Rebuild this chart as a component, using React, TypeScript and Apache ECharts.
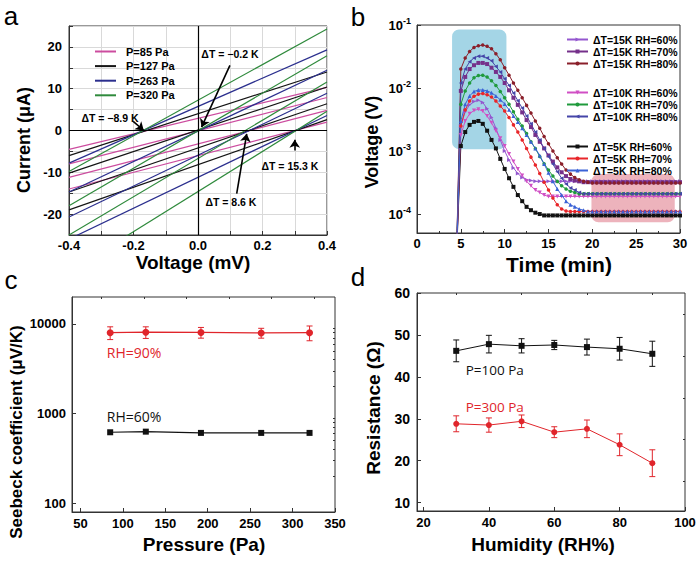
import React, { useEffect, useRef } from 'react';
import * as echarts from 'echarts';

const FONT = '"Liberation Sans", Arial, Helvetica, sans-serif';
const NARROW_FONT = '"Liberation Sans Narrow", "Liberation Sans", Arial, sans-serif';
const NOTE_FONT = '"Open Sans", "Noto Sans", sans-serif';

/* ---------------- panel a : I-V curves ---------------- */
const ivVoltage = [-0.4, 0.4];
const ivPressures = ['P=85 Pa', 'P=127 Pa', 'P=263 Pa', 'P=320 Pa'];
// current (µA) at V=-0.4 and V=+0.4 for the four temperature differences
const ivCurrent85 = [[-4.5, 10.3], [-8.0, 7.9], [-11.2, 4.8], [-14.0, 2.0]];
const ivCurrent127 = [[-6.0, 14.0], [-10.2, 10.4], [-14.7, 6.4], [-19.0, 2.6]];
const ivCurrent263 = [[-7.8, 19.3], [-14.7, 14.4], [-20.7, 8.9], [-26.0, 3.6]];
const ivCurrent320 = [[-9.8, 24.3], [-18.0, 17.9], [-25.0, 11.6], [-33.8, 4.6]];
const ivNoteText = ['ΔT = −8.9 K', 'ΔT = −0.2 K', 'ΔT = 8.6 K', 'ΔT = 15.3 K'];
const ivNoteAt = [[-0.273, 3.1], [0.099, 18.3], [0.102, -17.1], [0.285, -8.4]];
const ivArrowFrom = [[-0.201, 2.2], [0.099, 15.6], [0.12, -15.1], [0.30, -4.8]];
const ivArrowTo = [[-0.168, 0.0], [0.011, 0.8], [0.151, -0.8], [0.30, -2.2]];

/* ---------------- panel b : voltage vs time ---------------- */
const timeMin = [4.5, 5, 5.5, 6, 6.5, 7, 7.5, 8, 8.5, 9, 9.5, 10, 10.5, 11, 11.5, 12, 12.5, 13,
  13.5, 14, 14.5, 15, 15.5, 16, 16.5, 17, 17.5, 18, 18.5, 19, 19.5, 20, 20.5, 21, 21.5, 22, 22.5,
  23, 23.5, 24, 24.5, 25, 25.5, 26, 26.5, 27, 27.5, 28, 28.5, 29, 29.5, 30];
const v15K60 = [2e-5, 0.0025, 0.0042, 0.0054, 0.0061, 0.0064, 0.0059, 0.0047, 0.0034, 0.0023,
  0.0015, 0.0010, 7.2e-4, 5.4e-4, 4.4e-4, 3.8e-4, 3.5e-4, 3.4e-4, 3.3e-4, 3.3e-4,
  3.3e-4, 3.3e-4, 3.3e-4, 3.3e-4, 3.3e-4, 3.3e-4, 3.3e-4, 3.3e-4, 3.3e-4, 3.3e-4,
  3.3e-4, 3.3e-4, 3.3e-4, 3.3e-4, 3.3e-4, 3.3e-4, 3.3e-4, 3.3e-4, 3.3e-4, 3.3e-4,
  3.3e-4, 3.3e-4, 3.3e-4, 3.3e-4, 3.3e-4, 3.3e-4, 3.3e-4, 3.3e-4, 3.3e-4, 3.3e-4, 3.3e-4, 3.3e-4];
const v15K70 = [2e-5, 0.009, 0.015, 0.020, 0.023, 0.025, 0.025, 0.024, 0.021, 0.018,
  0.015, 0.012, 0.0092, 0.0070, 0.0054, 0.0041, 0.0031, 0.0024, 0.0018, 0.0014,
  0.0011, 8.5e-4, 6.8e-4, 5.5e-4, 4.6e-4, 4.0e-4, 3.6e-4, 3.4e-4, 3.3e-4, 3.2e-4,
  3.2e-4, 3.2e-4, 3.2e-4, 3.2e-4, 3.2e-4, 3.2e-4, 3.2e-4, 3.2e-4, 3.2e-4, 3.2e-4,
  3.2e-4, 3.2e-4, 3.2e-4, 3.2e-4, 3.2e-4, 3.2e-4, 3.2e-4, 3.2e-4, 3.2e-4, 3.2e-4, 3.2e-4, 3.2e-4];
const v15K80 = [2e-5, 0.020, 0.030, 0.038, 0.044, 0.047, 0.048, 0.046, 0.042, 0.035,
  0.028, 0.021, 0.016, 0.012, 0.0092, 0.0070, 0.0053, 0.0040, 0.0030, 0.0023,
  0.0017, 0.0013, 0.0010, 7.8e-4, 6.2e-4, 5.0e-4, 4.3e-4, 3.8e-4, 3.5e-4, 3.3e-4,
  3.2e-4, 3.1e-4, 3.1e-4, 3.1e-4, 3.1e-4, 3.1e-4, 3.1e-4, 3.1e-4, 3.1e-4, 3.1e-4,
  3.1e-4, 3.1e-4, 3.1e-4, 3.1e-4, 3.1e-4, 3.1e-4, 3.1e-4, 3.1e-4, 3.1e-4, 3.1e-4, 3.1e-4, 3.1e-4];
const v10K60 = [2e-5, 0.0018, 0.0030, 0.0039, 0.0044, 0.0046, 0.0043, 0.0036, 0.0028, 0.0021,
  0.0016, 0.0012, 9.0e-4, 6.8e-4, 5.2e-4, 4.1e-4, 3.3e-4, 2.8e-4, 2.4e-4, 2.2e-4,
  2.0e-4, 1.9e-4, 1.9e-4, 1.9e-4, 1.9e-4, 1.9e-4, 1.9e-4, 1.9e-4, 1.9e-4, 1.9e-4,
  1.9e-4, 1.9e-4, 1.9e-4, 1.9e-4, 1.9e-4, 1.9e-4, 1.9e-4, 1.9e-4, 1.9e-4, 1.9e-4,
  1.9e-4, 1.9e-4, 1.9e-4, 1.9e-4, 1.9e-4, 1.9e-4, 1.9e-4, 1.9e-4, 1.9e-4, 1.9e-4, 1.9e-4, 1.9e-4];
const v10K70 = [2e-5, 0.0055, 0.0090, 0.012, 0.0145, 0.0158, 0.016, 0.015, 0.013, 0.011,
  0.0088, 0.0070, 0.0055, 0.0042, 0.0032, 0.0025, 0.0019, 0.0014, 0.0011, 8.2e-4,
  6.3e-4, 5.0e-4, 4.0e-4, 3.3e-4, 2.8e-4, 2.5e-4, 2.3e-4, 2.2e-4, 2.1e-4, 2.1e-4,
  2.1e-4, 2.1e-4, 2.1e-4, 2.1e-4, 2.1e-4, 2.1e-4, 2.1e-4, 2.1e-4, 2.1e-4, 2.1e-4,
  2.1e-4, 2.1e-4, 2.1e-4, 2.1e-4, 2.1e-4, 2.1e-4, 2.1e-4, 2.1e-4, 2.1e-4, 2.1e-4, 2.1e-4, 2.1e-4];
const v10K80 = [2e-5, 0.012, 0.020, 0.026, 0.030, 0.032, 0.032, 0.030, 0.027, 0.022,
  0.018, 0.014, 0.011, 0.0083, 0.0063, 0.0048, 0.0036, 0.0027, 0.0020, 0.0015,
  0.0011, 8.2e-4, 6.2e-4, 4.7e-4, 3.7e-4, 3.0e-4, 2.6e-4, 2.4e-4, 2.2e-4, 2.1e-4,
  2.1e-4, 2.1e-4, 2.1e-4, 2.1e-4, 2.1e-4, 2.1e-4, 2.1e-4, 2.1e-4, 2.1e-4, 2.1e-4,
  2.1e-4, 2.1e-4, 2.1e-4, 2.1e-4, 2.1e-4, 2.1e-4, 2.1e-4, 2.1e-4, 2.1e-4, 2.1e-4, 2.1e-4, 2.1e-4];
const v5K60 = [2e-5, 0.0012, 0.0020, 0.0026, 0.0029, 0.0030, 0.0027, 0.0021, 0.0015, 0.0011,
  7.5e-4, 5.2e-4, 3.7e-4, 2.7e-4, 2.0e-4, 1.6e-4, 1.3e-4, 1.15e-4, 1.05e-4, 1.0e-4,
  9.5e-5, 9.5e-5, 9.5e-5, 9.5e-5, 9.5e-5, 9.5e-5, 9.5e-5, 9.5e-5, 9.5e-5, 9.5e-5,
  9.5e-5, 9.5e-5, 9.5e-5, 9.5e-5, 9.5e-5, 9.5e-5, 9.5e-5, 9.5e-5, 9.5e-5, 9.5e-5,
  9.5e-5, 9.5e-5, 9.5e-5, 9.5e-5, 9.5e-5, 9.5e-5, 9.5e-5, 9.5e-5, 9.5e-5, 9.5e-5, 9.5e-5, 9.5e-5];
const v5K70 = [2e-5, 0.0025, 0.0045, 0.0062, 0.0074, 0.0080, 0.0082, 0.0078, 0.0072, 0.0062,
  0.0052, 0.0043, 0.0034, 0.0026, 0.0020, 0.0015, 0.0011, 8.0e-4, 6.0e-4, 4.4e-4,
  3.2e-4, 2.4e-4, 1.8e-4, 1.4e-4, 1.2e-4, 1.12e-4, 1.1e-4, 1.1e-4, 1.1e-4, 1.1e-4,
  1.1e-4, 1.1e-4, 1.1e-4, 1.1e-4, 1.1e-4, 1.1e-4, 1.1e-4, 1.1e-4, 1.1e-4, 1.1e-4,
  1.1e-4, 1.1e-4, 1.1e-4, 1.1e-4, 1.1e-4, 1.1e-4, 1.1e-4, 1.1e-4, 1.1e-4, 1.1e-4, 1.1e-4, 1.1e-4];
const v5K80 = [2e-5, 0.0030, 0.0055, 0.0075, 0.0088, 0.0093, 0.0093, 0.0090, 0.0084, 0.0075,
  0.0065, 0.0056, 0.0045, 0.0036, 0.0029, 0.0023, 0.0018, 0.0014, 0.0011, 8.5e-4,
  6.2e-4, 4.5e-4, 3.3e-4, 2.5e-4, 2.0e-4, 1.6e-4, 1.4e-4, 1.3e-4, 1.2e-4, 1.15e-4,
  1.1e-4, 1.1e-4, 1.1e-4, 1.1e-4, 1.1e-4, 1.1e-4, 1.1e-4, 1.1e-4, 1.1e-4, 1.1e-4,
  1.1e-4, 1.1e-4, 1.1e-4, 1.1e-4, 1.1e-4, 1.1e-4, 1.1e-4, 1.1e-4, 1.1e-4, 1.1e-4, 1.1e-4, 1.1e-4];
const bNames15 = ['ΔT=15K RH=60%', 'ΔT=15K RH=70%', 'ΔT=15K RH=80%'];
const bNames10 = ['ΔT=10K RH=60%', 'ΔT=10K RH=70%', 'ΔT=10K RH=80%'];
const bNames5 = ['ΔT=5K RH=60%', 'ΔT=5K RH=70%', 'ΔT=5K RH=80%'];
const bTickValues = [1e-4, 1e-3, 1e-2, 1e-1];
const bShadeBlueT = [4.0, 10.2];
const bShadeBlueV = [1.07e-3, 0.085];
const bShadePinkT = [19.9, 29.4];
const bShadePinkV = [7.4e-5, 4.3e-4];

/* ---------------- panel c : Seebeck vs pressure ---------------- */
const pressurePa = [85, 127, 192, 263, 320];
const seebeckRH90 = [8000, 8100, 8050, 7950, 8000];
const seebeckRH90Err = [1300, 1200, 1100, 1000, 1500];
const seebeckRH60 = [620, 630, 610, 610, 610];
const cTickValues = [100, 1000, 10000];
const cLabelRH90At = [81, 4790];
const cLabelRH60At = [81, 933];

/* ---------------- panel d : resistance vs humidity ---------------- */
const humidityRH = [30, 40, 50, 60, 70, 80, 90];
const resP100 = [46.2, 47.8, 47.4, 47.6, 47.1, 46.7, 45.5];
const resP100Err = [2.6, 2.1, 1.7, 1.1, 1.9, 2.7, 3.0];
const resP300 = [28.8, 28.5, 29.4, 26.8, 27.6, 23.8, 19.4];
const resP300Err = [1.9, 1.7, 1.5, 1.3, 2.1, 2.6, 3.2];
const dLabelP100At = [32.9, 41.7];
const dLabelP300At = [32.9, 32.9];

const ivColors = ['#cc4c9f', '#151515', '#2b2f8e', '#2f8a3c'];
const bColors15 = ['#9457cf', '#75308a', '#8a1f2a'];
const bColors10 = ['#d04fc4', '#1f9a3c', '#4545a8'];
const bColors5 = ['#111111', '#e8262a', '#3a62d6'];
const RED = '#e0252b';

function errorBars(xi: number, yi: number, xs: number[], ys: number[], es: number[], color: string) {
  return {
    type: 'custom',
    xAxisIndex: xi,
    yAxisIndex: yi,
    silent: true,
    z: 3,
    data: xs.map((x, i) => [x, ys[i] - es[i], ys[i] + es[i]]),
    encode: { x: 0, y: [1, 2] },
    renderItem: (_p: any, api: any) => {
      const x = api.value(0);
      const top = api.coord([x, api.value(2)]);
      const bot = api.coord([x, api.value(1)]);
      const w = 3;
      const st = { stroke: color, lineWidth: 1 };
      return {
        type: 'group',
        children: [
          { type: 'line', shape: { x1: top[0], y1: top[1], x2: bot[0], y2: bot[1] }, style: st },
          { type: 'line', shape: { x1: top[0] - w, y1: top[1], x2: top[0] + w, y2: top[1] }, style: st },
          { type: 'line', shape: { x1: bot[0] - w, y1: bot[1], x2: bot[0] + w, y2: bot[1] }, style: st },
        ],
      };
    },
  };
}

export default function App() {
  const ref = useRef<HTMLDivElement>(null);
  useEffect(() => {
    const chart = echarts.init(ref.current!, undefined, { renderer: 'svg' });

    const lbl = (size: number, extra: any = {}) => ({
      color: '#000', fontWeight: 'bold', fontSize: size, fontFamily: FONT, ...extra,
    });
    const axLine = { show: true, onZero: false, lineStyle: { color: '#333', width: 1 } };
    const tick = (extra: any = {}) => ({ show: true, inside: true, length: 4, lineStyle: { color: '#333', width: 1 }, ...extra });
    const minorAxis = (gridIndex: number, type: string, min: number, max: number, ticks: number[]) => ({
      gridIndex, type, min, max,
      axisLine: { show: false }, axisLabel: { show: false }, splitLine: { show: false },
      axisTick: { show: true, inside: true, length: 2, customValues: ticks, lineStyle: { color: '#333', width: 1 } },
    });
    const grid = (left: number, top: number, width: number, height: number) => ({
      left, top, width, height, show: true, borderColor: '#333', borderWidth: 1, backgroundColor: 'transparent',
    });

    const series: any[] = [];
    // panel a
    const ivSets = [ivCurrent85, ivCurrent127, ivCurrent263, ivCurrent320];
    ivSets.forEach((set, pi) => {
      set.forEach((pair) => {
        series.push({
          type: 'line', name: ivPressures[pi], xAxisIndex: 0, yAxisIndex: 0, symbol: 'none',
          color: ivColors[pi], lineStyle: { width: 1.2, color: ivColors[pi] },
          data: ivVoltage.map((v, j) => [v, pair[j]]), clip: true, z: 2,
        });
      });
    });
    series[0].markLine = {
      silent: true, symbol: ['none', 'none'], label: { show: false },
      lineStyle: { color: '#000', width: 1.2, type: 'solid' },
      data: [{ xAxis: 0 }, { yAxis: 0 }],
    };
    series[1].markLine = {
      silent: true, symbol: ['none', 'arrow'], symbolSize: 8, label: { show: false },
      lineStyle: { color: '#000', width: 1.6, type: 'solid' },
      data: ivArrowFrom.map((f, i) => [{ coord: f }, { coord: ivArrowTo[i] }]),
    };

    // panel b
    const bAll = [
      { name: bNames15[0], values: v15K60, color: bColors15[0], symbol: 'triangle', rot: -90 },
      { name: bNames15[1], values: v15K70, color: bColors15[1], symbol: 'rect', rot: 0 },
      { name: bNames15[2], values: v15K80, color: bColors15[2], symbol: 'circle', rot: 0 },
      { name: bNames10[0], values: v10K60, color: bColors10[0], symbol: 'triangle', rot: 180 },
      { name: bNames10[1], values: v10K70, color: bColors10[1], symbol: 'circle', rot: 0 },
      { name: bNames10[2], values: v10K80, color: bColors10[2], symbol: 'triangle', rot: 90 },
      { name: bNames5[0], values: v5K60, color: bColors5[0], symbol: 'rect', rot: 0 },
      { name: bNames5[1], values: v5K70, color: bColors5[1], symbol: 'circle', rot: 0 },
      { name: bNames5[2], values: v5K80, color: bColors5[2], symbol: 'triangle', rot: 0 },
    ];
    bAll.forEach((s) => {
      series.push({
        type: 'line', name: s.name, xAxisIndex: 1, yAxisIndex: 1, clip: true, z: 3,
        data: timeMin.map((t, j) => [t, s.values[j]]),
        symbol: s.symbol, symbolRotate: s.rot, symbolSize: s.symbol === 'circle' ? 3.5 : 4, showSymbol: true,
        color: s.color, itemStyle: { color: s.color }, lineStyle: { width: 1, color: s.color },
      });
    });

    // panel c
    series.push(errorBars(2, 2, pressurePa, seebeckRH90, seebeckRH90Err, RED));
    series.push({
      type: 'line', name: 'RH=90%', xAxisIndex: 2, yAxisIndex: 2, data: pressurePa.map((p, i) => [p, seebeckRH90[i]]),
      symbol: 'circle', symbolSize: 7, color: RED, itemStyle: { color: RED }, lineStyle: { color: RED, width: 1.2 }, z: 4,
    });
    series.push({
      type: 'line', name: 'RH=60%', xAxisIndex: 2, yAxisIndex: 2, data: pressurePa.map((p, i) => [p, seebeckRH60[i]]),
      symbol: 'rect', symbolSize: 6, color: '#111', itemStyle: { color: '#111' }, lineStyle: { color: '#111', width: 1.2 }, z: 4,
    });

    // panel d
    series.push(errorBars(3, 3, humidityRH, resP100, resP100Err, '#111'));
    series.push(errorBars(3, 3, humidityRH, resP300, resP300Err, RED));
    series.push({
      type: 'line', name: 'P=100 Pa', xAxisIndex: 3, yAxisIndex: 3, data: humidityRH.map((h, i) => [h, resP100[i]]),
      symbol: 'rect', symbolSize: 6, color: '#111', itemStyle: { color: '#111' }, lineStyle: { color: '#111', width: 1 }, z: 4,
    });
    series.push({
      type: 'line', name: 'P=300 Pa', xAxisIndex: 3, yAxisIndex: 3, data: humidityRH.map((h, i) => [h, resP300[i]]),
      symbol: 'circle', symbolSize: 6, color: RED, itemStyle: { color: RED }, lineStyle: { color: RED, width: 1 }, z: 4,
    });

    const bLegend = (names: string[], top: number) => ({
      data: names, left: 561, top, orient: 'vertical', itemWidth: 21, itemHeight: 5, itemGap: 1,
      selectedMode: false, textStyle: lbl(10.5),
    });

    const option: any = {
      animation: false,
      backgroundColor: '#fff',
      textStyle: { fontFamily: FONT },
      grid: [grid(69, 26, 258, 209), grid(417, 25, 263, 208), grid(72, 297, 263, 215), grid(417, 293, 268, 218)],
      legend: [
        {
          data: ivPressures, left: 90, top: 41, orient: 'vertical', icon: 'rect', itemWidth: 21, itemHeight: 2,
          itemGap: 3.6, selectedMode: false, textStyle: lbl(11, { padding: [0, 0, 0, 5] }),
        },
        bLegend(bNames15, 29),
        bLegend(bNames10, 82),
        bLegend(bNames5, 136),
      ],
      xAxis: [
        {
          gridIndex: 0, type: 'value', min: -0.4, max: 0.4, interval: 0.1,
          axisLine: axLine, axisTick: tick(),
          splitLine: { show: true, lineStyle: { color: '#d9d9d9', width: 1 } },
          axisLabel: { ...lbl(13), margin: 4, interval: 0, formatter: (v: number) => (Math.round(v * 10) % 2 === 0 ? v.toFixed(1) : '') },
        },
        {
          gridIndex: 1, type: 'value', min: 0, max: 30, interval: 5,
          axisLine: axLine, axisTick: tick(),
          minorTick: { show: true, splitNumber: 2, length: 2, lineStyle: { color: '#333' } },
          splitLine: { show: false },
          axisLabel: { ...lbl(13), margin: 4 },
        },
        {
          gridIndex: 2, type: 'value', min: 40, max: 350,
          axisLine: axLine, axisTick: tick({ customValues: [50, 100, 150, 200, 250, 300, 350] }),
          splitLine: { show: false },
          axisLabel: { ...lbl(13), margin: 5, customValues: [50, 100, 150, 200, 250, 300, 350] },
        },
        {
          gridIndex: 3, type: 'value', min: 18, max: 100,
          axisLine: axLine, axisTick: tick({ customValues: [20, 40, 60, 80, 100] }),
          splitLine: { show: false },
          axisLabel: { ...lbl(13), margin: 5, customValues: [20, 40, 60, 80, 100] },
        },
        minorAxis(2, 'value', 40, 350, [75, 125, 175, 225, 275, 325]),
        minorAxis(3, 'value', 18, 100, [30, 50, 70, 90]),
      ],
      yAxis: [
        {
          gridIndex: 0, type: 'value', min: -25, max: 25, interval: 5,
          axisLine: axLine, axisTick: tick(),
          splitLine: { show: true, lineStyle: { color: '#d9d9d9', width: 1 } },
          axisLabel: { ...lbl(13), margin: 7, interval: 0, formatter: (v: number) => (Math.round(v) % 10 === 0 ? String(v) : '') },
        },
        {
          gridIndex: 1, type: 'log', logBase: 10, min: 5e-5, max: 0.1,
          axisLine: axLine, axisTick: tick({ customValues: bTickValues }),
          splitLine: { show: false },
          axisLabel: {
            customValues: bTickValues, margin: 6,
            formatter: (v: number) => `{b|10}{s|${Math.round(Math.log10(v))}}`,
            rich: {
              b: lbl(13),
              s: lbl(9, { padding: [0, 0, 9, 0] }),
            },
          },
        },
        {
          gridIndex: 2, type: 'log', logBase: 10, min: 80, max: 20000,
          axisLine: axLine, axisTick: tick({ customValues: cTickValues }),
          splitLine: { show: false },
          axisLabel: { ...lbl(13), margin: 6, customValues: cTickValues, formatter: (v: number) => String(Math.round(v)) },
        },
        {
          gridIndex: 3, type: 'value', min: 8, max: 60,
          axisLine: axLine, axisTick: tick({ customValues: [10, 20, 30, 40, 50, 60] }),
          splitLine: { show: false },
          axisLabel: { ...lbl(14), margin: 7, customValues: [10, 20, 30, 40, 50, 60] },
        },
        minorAxis(2, 'log', 80, 20000, [200, 300, 400, 500, 600, 700, 800, 900, 2000, 3000, 4000, 5000, 6000, 7000, 8000, 9000]),
        minorAxis(3, 'value', 8, 60, [15, 25, 35, 45, 55]),
      ],
      series,
    };
    chart.setOption(option);

    const px = (xi: number, yi: number, p: number[]) =>
      chart.convertToPixel({ xAxisIndex: xi, yAxisIndex: yi } as any, p) as unknown as number[];
    const text = (t: string, x: number, y: number, size: number, weight: string, color = '#000',
      align = 'center', rotation = 0, family = FONT) => ({
      type: 'text', x, y, rotation, silent: true, z: 10,
      style: {
        text: t, fill: color, fontSize: size, fontWeight: weight, fontFamily: family,
        textAlign: align, textVerticalAlign: 'middle', align, verticalAlign: 'middle',
      },
    });
    const roundRect = (ts: number[], vs: number[], fill: string, opacity: number) => {
      const p1 = px(1, 1, [ts[0], vs[1]]);
      const p2 = px(1, 1, [ts[1], vs[0]]);
      return {
        type: 'rect', silent: true, z: 1,
        shape: { x: p1[0], y: p1[1], width: p2[0] - p1[0], height: p2[1] - p1[1], r: 7 },
        style: { fill, opacity },
      };
    };

    const elements: any[] = [
      text('a', 11, 16, 26, 'normal'),
      text('b', 358, 17, 26, 'normal'),
      text('c', 11, 280, 26, 'normal'),
      text('d', 358, 277, 26, 'normal'),
      text('Voltage (mV)', 193, 262, 19, 'bold'),
      text('Current (μA)', 24, 140, 18, 'bold', '#000', 'center', Math.PI / 2),
      text('Time (min)', 559, 264, 21, 'bold'),
      text('Voltage (V)', 372, 142, 18, 'bold', '#000', 'center', Math.PI / 2),
      text('Pressure (Pa)', 204, 544, 19, 'bold'),
      text('Seebeck coefficient (μV/K)', 16, 432, 17, 'bold', '#000', 'center', Math.PI / 2, NARROW_FONT),
      text('Humidity (RH%)', 543, 544, 19, 'bold'),
      text('Resistance (Ω)', 373, 408, 19, 'bold', '#000', 'center', Math.PI / 2),
      roundRect(bShadeBlueT, bShadeBlueV, '#9fd3e5', 0.95),
      roundRect(bShadePinkT, bShadePinkV, '#e79aa5', 0.75),
    ];
    ivNoteText.forEach((t, i) => {
      const p = px(0, 0, ivNoteAt[i]);
      elements.push(text(t, p[0], p[1], 10.5, 'bold'));
    });
    const c90 = px(2, 2, cLabelRH90At);
    const c60 = px(2, 2, cLabelRH60At);
    const d100 = px(3, 3, dLabelP100At);
    const d300 = px(3, 3, dLabelP300At);
    elements.push(text('RH=90%', c90[0], c90[1], 14, 'normal', RED, 'left', 0, NOTE_FONT));
    elements.push(text('RH=60%', c60[0], c60[1], 14, 'normal', '#111', 'left', 0, NOTE_FONT));
    elements.push(text('P=100 Pa', d100[0], d100[1], 13.5, 'normal', '#111', 'left', 0, NOTE_FONT));
    elements.push(text('P=300 Pa', d300[0], d300[1], 13.5, 'normal', RED, 'left', 0, NOTE_FONT));
    chart.setOption({ graphic: { elements } });

    return () => chart.dispose();
  }, []);

  return (
    <div
      ref={ref}
      style={{ position: 'fixed', left: 0, top: 0, width: 700, height: 563, background: '#fff' }}
    />
  );
}
